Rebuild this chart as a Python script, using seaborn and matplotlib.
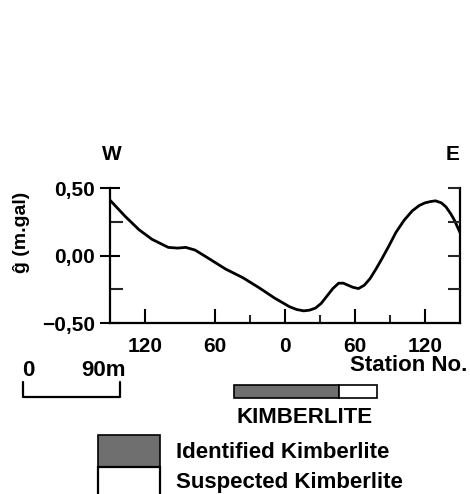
import matplotlib
matplotlib.use("Agg")
import matplotlib.pyplot as plt
from matplotlib.patches import Rectangle
from matplotlib.lines import Line2D
import seaborn as sns
import pandas as pd

# Gravity profile across the kimberlite (station offset from centre, W negative)
station = [-150, -137, -125, -114, -100, -92, -85, -77, -65, -51, -36, -22,
           -9, 4, 10, 16, 21, 26, 31, 36, 41, 46, 50, 54, 58, 63, 68, 73,
           78, 83, 89, 95, 102, 109, 115, 120, 125, 129, 134, 138, 142,
           145, 150]
anomaly = [0.41, 0.29, 0.19, 0.12, 0.06, 0.055, 0.06, 0.04, -0.024, -0.10,
           -0.165, -0.24, -0.315, -0.38, -0.40, -0.41, -0.405, -0.39,
           -0.355, -0.30, -0.245, -0.205, -0.205, -0.22, -0.235, -0.245,
           -0.22, -0.17, -0.10, -0.025, 0.07, 0.17, 0.26, 0.33, 0.37, 0.39,
           0.40, 0.405, 0.39, 0.36, 0.31, 0.265, 0.17]

x_major = [-120, -60, 0, 60, 120]
x_major_labels = ["120", "60", "0", "60", "120"]
x_minor = [-30, 30, 90]
y_major = [0.5, 0.0, -0.5]
y_major_labels = ["0,50", "0,00", "\u22120,50"]
y_minor = [0.25, -0.25]

df = pd.DataFrame({"station": station, "anomaly": anomaly})

sns.set_theme(style="white")
plt.rcParams["font.family"] = ["Liberation Sans", "DejaVu Sans"]
plt.rcParams["font.weight"] = "bold"

W, H = 470, 494
fig = plt.figure(figsize=(W / 100, H / 100), dpi=100)


def fx(px):
    return px / W


def fy(py):
    return 1 - py / H


ax = fig.add_axes([fx(110), fy(323), fx(460) - fx(110), fy(188) - fy(323)])
sns.lineplot(data=df, x="station", y="anomaly", ax=ax, color="black",
             linewidth=2.0, sort=False)
ax.lines[0].set_solid_joinstyle("round")
ax.lines[0].set_solid_capstyle("round")
ax.set_xlim(-150, 150)
ax.set_ylim(-0.5, 0.5)
ax.set_xlabel("")
ax.set_ylabel("")

for side in ["left", "right", "bottom"]:
    ax.spines[side].set_visible(True)
    ax.spines[side].set_color("black")
    ax.spines[side].set_linewidth(1.6)
ax.spines["top"].set_visible(False)

ax.set_xticks(x_major)
ax.set_xticklabels(x_major_labels)
ax.set_xticks(x_minor, minor=True)
ax.set_yticks(y_major)
ax.set_yticklabels(y_major_labels)
ax.set_yticks(y_minor, minor=True)

ax.tick_params(axis="x", which="major", direction="in", length=10, width=1.5,
               bottom=True, top=False, labelsize=15, pad=10, colors="black")
ax.tick_params(axis="x", which="minor", direction="in", length=6, width=1.5,
               bottom=True, top=False)
ax.tick_params(axis="y", which="major", direction="inout", length=14, width=1.5,
               left=True, right=False, labelsize=15, pad=4, colors="black")
ax.tick_params(axis="y", which="minor", direction="in", length=9, width=1.5,
               left=True, right=False)
for lab in ax.get_xticklabels() + ax.get_yticklabels():
    lab.set_fontweight("bold")

# right-hand ticks point inward only
ax2 = ax.twinx()
ax2.set_ylim(-0.5, 0.5)
ax2.set_yticks([0.5, 0.25, 0.0, -0.25])
ax2.set_yticklabels([])
ax2.tick_params(axis="y", direction="in", length=9, width=1.5, right=True,
                left=False)
for side in ax2.spines:
    ax2.spines[side].set_visible(False)

txt = dict(fontweight="bold", color="black")
fig.text(fx(112), fy(155), "W", ha="center", va="center", fontsize=15, **txt)
fig.text(fx(453), fy(155), "E", ha="center", va="center", fontsize=15, **txt)
fig.text(fx(22), fy(232), "\u011d (m.gal)", ha="center", va="center",
         rotation=90, fontsize=14, **txt)
fig.text(fx(467), fy(365), "Station No.", ha="right", va="center",
         fontsize=16, **txt)

# scale bar
fig.text(fx(28), fy(370), "0", ha="center", va="center", fontsize=16, **txt)
fig.text(fx(104), fy(370), "90m", ha="center", va="center", fontsize=16, **txt)
fig.add_artist(Line2D([fx(23), fx(23), fx(120), fx(120)],
                      [fy(382), fy(397), fy(397), fy(382)],
                      color="black", linewidth=1.6))

# kimberlite extent bar
fig.add_artist(Rectangle((fx(234), fy(398)), fx(339) - fx(234),
                         fy(385) - fy(398), facecolor="#6f6f6f",
                         edgecolor="black", linewidth=1.2))
fig.add_artist(Rectangle((fx(339), fy(398)), fx(377) - fx(339),
                         fy(385) - fy(398), facecolor="white",
                         edgecolor="black", linewidth=1.2))
fig.text(fx(305), fy(417), "KIMBERLITE", ha="center", va="center",
         fontsize=16, **txt)

# legend
fig.add_artist(Rectangle((fx(98), fy(467)), fx(160) - fx(98),
                         fy(435) - fy(467), facecolor="#6f6f6f",
                         edgecolor="black", linewidth=1.2))
fig.add_artist(Rectangle((fx(98), fy(500)), fx(160) - fx(98),
                         fy(467) - fy(500), facecolor="white",
                         edgecolor="black", linewidth=1.6))
fig.text(fx(176), fy(452), "Identified Kimberlite", ha="left", va="center",
         fontsize=16, **txt)
fig.text(fx(176), fy(482), "Suspected Kimberlite", ha="left", va="center",
         fontsize=16, **txt)

fig.savefig("out.png", dpi=100, facecolor="white")
